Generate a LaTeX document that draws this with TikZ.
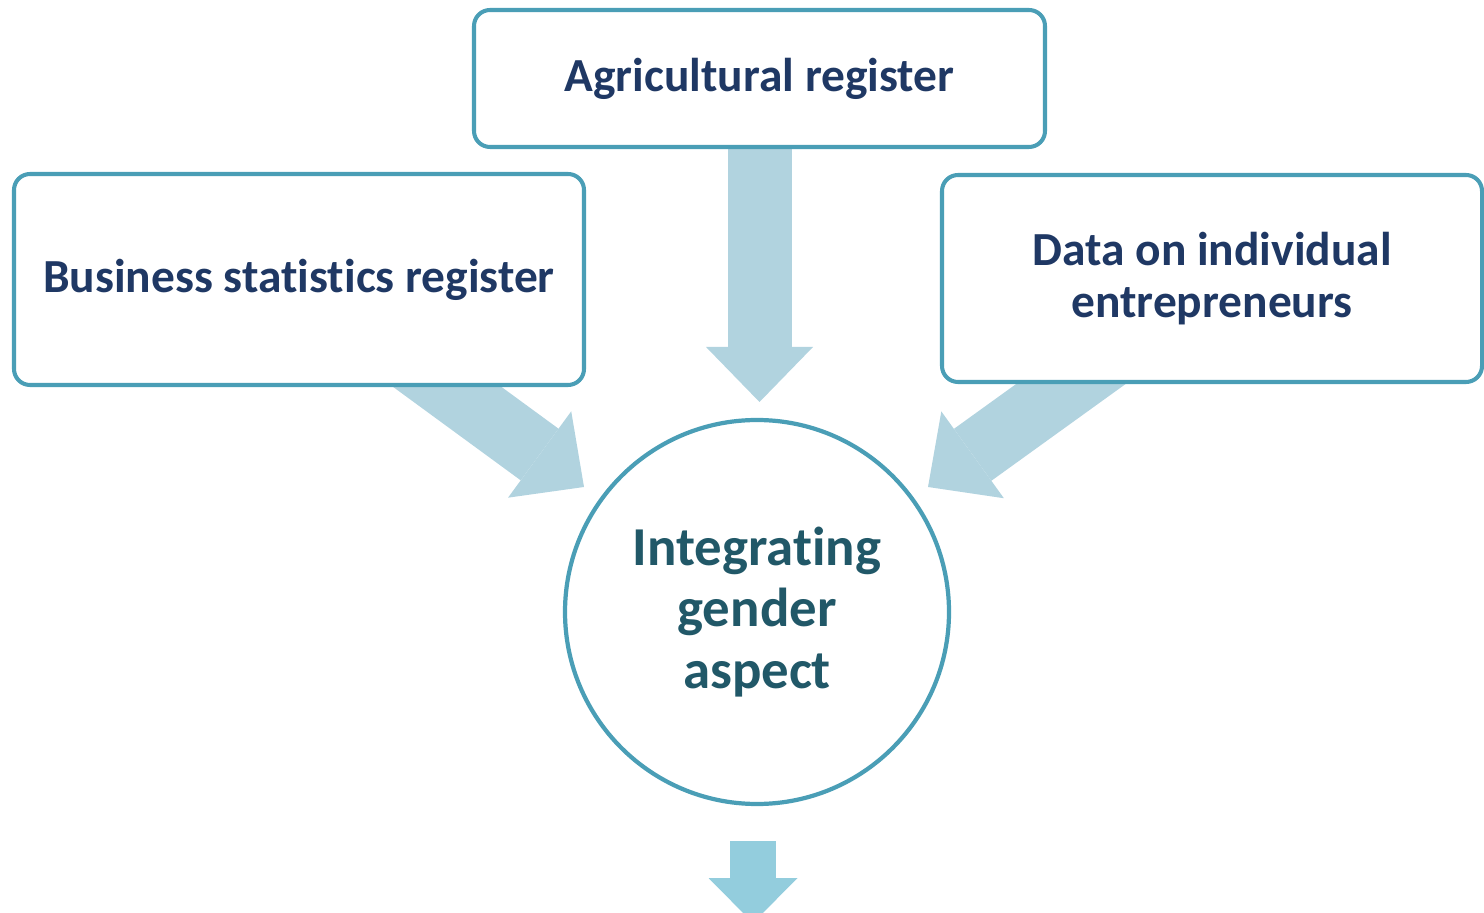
\documentclass[tikz,border=0pt]{standalone}
\usepackage{fontspec}
\setmainfont{Carlito}[RawFeature=-liga]
\usepackage{xcolor}
\definecolor{reg-edge}{HTML}{4A9EB6}
\definecolor{reg-text}{HTML}{1F3864}
\definecolor{aim-text}{HTML}{215868}
\definecolor{pale-blue}{HTML}{B1D3DF}
\definecolor{mid-blue}{HTML}{93CDDD}
\usepackage{tikz}
\usetikzlibrary{arrows.meta}
\usetikzlibrary{backgrounds}
\tikzset{regbox/.style = {draw=reg-edge, line width=1.15pt, rounded corners=0.16cm, fill=white, align=center, text=reg-text, font=\bfseries\fontsize{13.5}{14.8}\selectfont}}
\tikzset{aim/.style = {draw=reg-edge, line width=1.2pt, circle, fill=white, align=center, text=aim-text, minimum size=3.84cm, font=\bfseries\fontsize{15.6}{17.4}\selectfont}}
\tikzset{feed/.style = {draw=pale-blue, line width=0.64cm, -{Triangle[width=1.07cm, length=0.55cm, line width=0pt]}}}
\tikzset{outflow/.style = {draw=mid-blue, line width=0.46cm, -{Triangle[width=0.89cm, length=0.45cm, line width=0pt]}}}

\begin{document}
\begin{tikzpicture}
\useasboundingbox (0,0) rectangle (14.84,-9.13);

\node[regbox, minimum width=5.71cm, minimum height=1.37cm] (agri) at (7.595,-0.785) {Agricultural register};
\node[regbox, minimum width=5.70cm, minimum height=2.11cm] (bsr) at (2.99,-2.795) {Business statistics register};
\node[regbox, minimum width=5.40cm, minimum height=2.07cm] (ent) at (12.12,-2.785) {Data on individual\\entrepreneurs};
\node[aim] (gender) at (7.57,-6.12) {Integrating\\gender\\aspect};

% arrow ends, shafts start hidden under the boxes
\coordinate (agri-tip) at (7.595,-4.02);
\coordinate (bsr-foot) at (3.90,-3.45);
\coordinate (bsr-tip) at (5.84,-4.87);
\coordinate (ent-foot) at (11.25,-3.45);
\coordinate (ent-tip) at (9.28,-4.87);
\coordinate (out-foot) at (7.53,-8.41);
\coordinate (out-tip) at (7.53,-9.23);

\begin{scope}[on background layer]
\draw[feed]  (agri.south) -- (agri-tip);
\draw[feed]  (bsr-foot) -- (bsr-tip);
\draw[feed]  (ent-foot) -- (ent-tip);
\end{scope}
\draw[outflow]  (out-foot) -- (out-tip);

\end{tikzpicture}
\end{document}
